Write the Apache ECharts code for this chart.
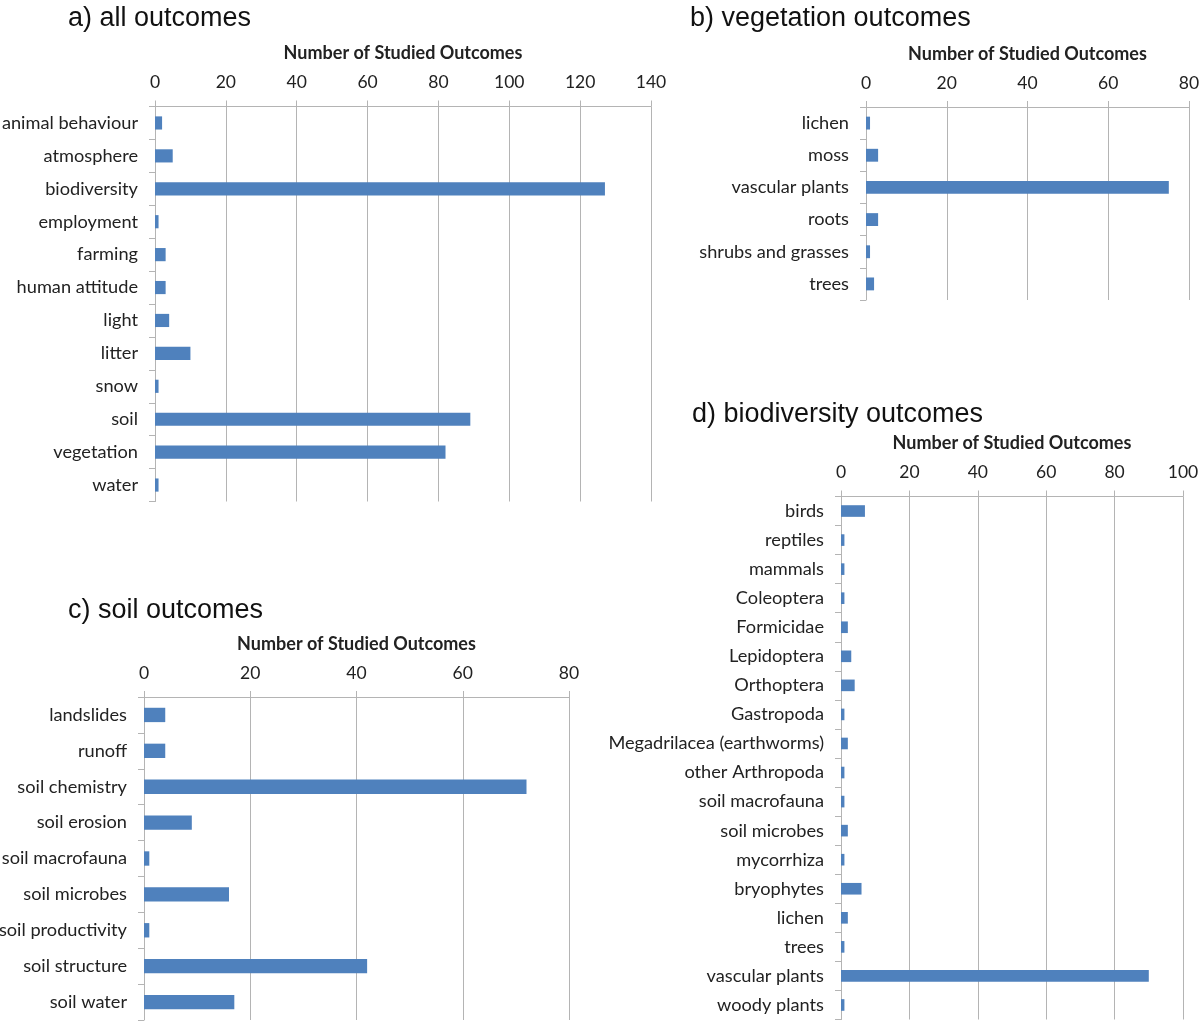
<!DOCTYPE html>
<html>
<head>
<meta charset="utf-8">
<script src="https://cdn.jsdelivr.net/npm/echarts@6/dist/echarts.min.js"></script>
<style>
html,body{margin:0;padding:0;background:#fff;}
#chart{width:1200px;height:1023px;}
</style>
</head>
<body>
<div id="chart"></div>
<script>
// Panel a) all outcomes
const catsA = ['animal behaviour','atmosphere','biodiversity','employment','farming','human attitude','light','litter','snow','soil','vegetation','water'];
const valsA = [2,5,127,1,3,3,4,10,1,89,82,1];
// Panel b) vegetation outcomes
const catsB = ['lichen','moss','vascular plants','roots','shrubs and grasses','trees'];
const valsB = [1,3,75,3,1,2];
// Panel c) soil outcomes
const catsC = ['landslides','runoff','soil chemistry','soil erosion','soil macrofauna','soil microbes','soil productivity','soil structure','soil water'];
const valsC = [4,4,72,9,1,16,1,42,17];
// Panel d) biodiversity outcomes
const catsD = ['birds','reptiles','mammals','Coleoptera','Formicidae','Lepidoptera','Orthoptera','Gastropoda','Megadrilacea (earthworms)','other Arthropoda','soil macrofauna','soil microbes','mycorrhiza','bryophytes','lichen','trees','vascular plants','woody plants'];
const valsD = [7,1,1,1,2,3,4,1,2,1,1,2,1,6,2,1,90,1];
// Axis maxima
const maxA = 140, maxB = 80, maxC = 80, maxD = 100;
const axisName = 'Number of Studied Outcomes';
const titles = ['a) all outcomes','b) vegetation outcomes','c) soil outcomes','d) biodiversity outcomes'];

const FONT = 'Lato, "Open Sans", sans-serif';
const BAR = '#4F81BD';
const GRID_COL = '#b4b4b4';

const grids = [
  {left:155, right:549, top:106.5, bottom:521.5, outerBoundsMode:'none', containLabel:false},
  {left:866, right:11, top:107, bottom:723, outerBoundsMode:'none', containLabel:false},
  {left:144, right:631, top:697, bottom:3, outerBoundsMode:'none', containLabel:false},
  {left:841, right:17, top:496.5, bottom:3.5, outerBoundsMode:'none', containLabel:false}
];

function xAxis(i, max){
  return {
    type:'value', gridIndex:i, position:'top', min:0, max:max, interval:20,
    name: axisName, nameLocation:'middle', nameGap:44,
    nameTextStyle:{fontFamily:FONT, fontWeight:'bold', fontSize:18, color:'#222'},
    axisLine:{show:true, lineStyle:{color:GRID_COL, width:1}},
    axisTick:{show:true, length:6, lineStyle:{color:GRID_COL}},
    axisLabel:{fontFamily:FONT, fontSize:17.5, color:'#222', margin:15},
    splitLine:{show:true, lineStyle:{color:GRID_COL, width:1}}
  };
}
function yAxis(i, cats){
  return {
    type:'category', gridIndex:i, data:cats, inverse:true,
    axisLine:{show:true, lineStyle:{color:GRID_COL, width:1}},
    axisTick:{show:true, length:6, lineStyle:{color:GRID_COL}},
    axisLabel:{fontFamily:FONT, fontSize:18.2, color:'#222', margin:17},
    splitLine:{show:false}
  };
}
function bar(i, vals){
  return {type:'bar', xAxisIndex:i, yAxisIndex:i, data:vals, barCategoryGap:'60%',
    itemStyle:{color:BAR}, silent:true, animation:false};
}

const titleStyle = {fontFamily:'"Liberation Sans", Arial, sans-serif', fontWeight:'normal', fontSize:27, color:'#111'};

const option = {
  animation:false,
  backgroundColor:'#fff',
  title:[
    {text:titles[0], left:63, top:0, textStyle:titleStyle},
    {text:titles[1], left:685, top:0, textStyle:titleStyle},
    {text:titles[2], left:63, top:592, textStyle:titleStyle},
    {text:titles[3], left:687, top:396, textStyle:titleStyle}
  ],
  grid:grids,
  xAxis:[xAxis(0,maxA), xAxis(1,maxB), xAxis(2,maxC), xAxis(3,maxD)],
  yAxis:[yAxis(0,catsA), yAxis(1,catsB), yAxis(2,catsC), yAxis(3,catsD)],
  series:[bar(0,valsA), bar(1,valsB), bar(2,valsC), bar(3,valsD)]
};

const chart = echarts.init(document.getElementById('chart'), null, {renderer:'canvas'});
chart.setOption(option);
</script>
</body>
</html>
